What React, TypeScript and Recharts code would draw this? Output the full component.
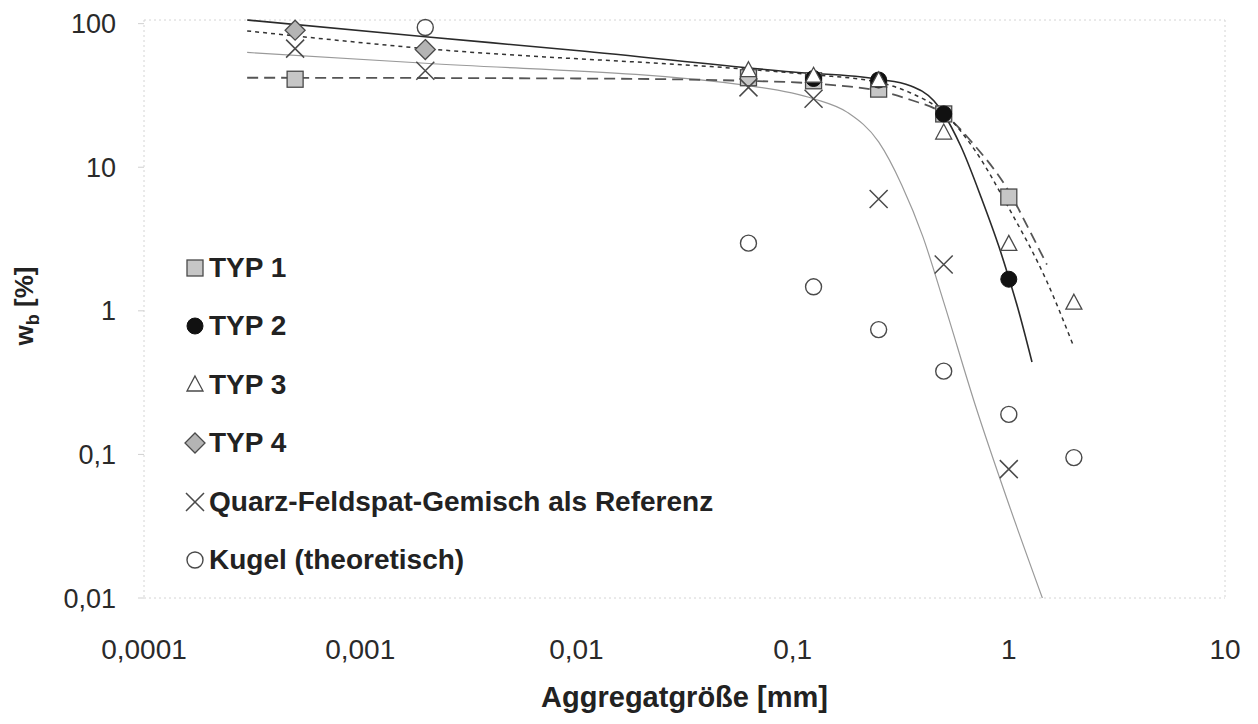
import React from 'react';
import { ComposedChart, Line, Scatter, XAxis, YAxis, CartesianGrid } from 'recharts';

// axis ticks
const xTicks = [0.0001, 0.001, 0.01, 0.1, 1, 10];
const yTicks = [0.01, 0.1, 1, 10, 100];

// measured points
const typ1X = [0.0005, 0.0625, 0.125, 0.25, 0.5, 1];
const typ1Y = [41, 42, 40, 35, 23.5, 6.2];
const typ2X = [0.125, 0.25, 0.5, 1];
const typ2Y = [41.5, 40.5, 23.5, 1.66];
const typ3X = [0.0625, 0.125, 0.25, 0.5, 1, 2];
const typ3Y = [47, 43, 40, 17.3, 2.9, 1.13];
const typ4X = [0.0005, 0.002];
const typ4Y = [90, 66];
const refX = [0.0005, 0.002, 0.0625, 0.125, 0.25, 0.5, 1];
const refY = [67, 47, 36, 30, 6, 2.1, 0.079];
const kugelX = [0.002, 0.0625, 0.125, 0.25, 0.5, 1, 2];
const kugelY = [94, 2.96, 1.47, 0.74, 0.38, 0.19, 0.095];

// fitted curves
const fitTyp2X = [0.0003, 0.002, 0.01, 0.1, 0.25, 0.35, 0.45, 0.5, 0.6, 0.75, 0.9, 1.0, 1.1, 1.28];
const fitTyp2Y = [106, 81, 65, 46, 41, 37, 29, 23.5, 14, 6, 2.8, 1.7, 1.05, 0.44];
const fitTyp1X = [0.0003, 0.01, 0.06, 0.15, 0.25, 0.35, 0.5, 0.7, 1.0, 1.25, 1.5];
const fitTyp1Y = [42, 41.5, 40, 37.5, 34, 29.5, 23.5, 14, 6.8, 3.6, 2.1];
const fitTyp34X = [0.0003, 0.002, 0.0625, 0.125, 0.25, 0.35, 0.5, 0.7, 1.0, 1.5, 2.0];
const fitTyp34Y = [89, 67, 48, 44, 39, 33, 24, 13, 5.2, 1.6, 0.56];
const fitRefX = [0.0003, 0.002, 0.0625, 0.125, 0.18, 0.25, 0.32, 0.4, 0.5, 0.7, 1.0, 1.43];
const fitRefY = [63, 53, 37, 30, 24, 15, 7.5, 3.3, 1.15, 0.22, 0.045, 0.01];

const legendLabels = [
  'TYP 1',
  'TYP 2',
  'TYP 3',
  'TYP 4',
  'Quarz-Feldspat-Gemisch als Referenz',
  'Kugel (theoretisch)',
];

const zip = (xs: number[], ys: number[]) => xs.map((x, i) => ({ x, y: ys[i] }));

const typ1 = zip(typ1X, typ1Y);
const typ2 = zip(typ2X, typ2Y);
const typ3 = zip(typ3X, typ3Y);
const typ4 = zip(typ4X, typ4Y);
const ref = zip(refX, refY);
const kugel = zip(kugelX, kugelY);
const fitTyp2 = zip(fitTyp2X, fitTyp2Y);
const fitTyp1 = zip(fitTyp1X, fitTyp1Y);
const fitTyp34 = zip(fitTyp34X, fitTyp34Y);
const fitRef = zip(fitRefX, fitRefY);

const MS = '#4a4a4a';

const SquareM = ({ cx, cy }: any) => (
  <rect x={cx - 8} y={cy - 8} width={16} height={16} fill="#c6c6c6" stroke={MS} strokeWidth={1.3} />
);
const DotM = ({ cx, cy }: any) => <circle cx={cx} cy={cy} r={8} fill="#111" stroke="#111" strokeWidth={1} />;
const TriM = ({ cx, cy }: any) => (
  <path d={`M${cx},${cy - 9} L${cx + 8},${cy + 6} L${cx - 8},${cy + 6} Z`} fill="#fff" stroke={MS} strokeWidth={1.3} />
);
const DiaM = ({ cx, cy }: any) => (
  <path d={`M${cx},${cy - 10} L${cx + 10},${cy} L${cx},${cy + 10} L${cx - 10},${cy} Z`} fill="#b4b4b4" stroke={MS} strokeWidth={1.3} />
);
const CrossM = ({ cx, cy }: any) => (
  <path d={`M${cx - 9},${cy - 9} L${cx + 9},${cy + 9} M${cx + 9},${cy - 9} L${cx - 9},${cy + 9}`} stroke={MS} strokeWidth={1.5} fill="none" />
);
const RingM = ({ cx, cy }: any) => <circle cx={cx} cy={cy} r={8} fill="none" stroke={MS} strokeWidth={1.4} />;

const legendShapes = [SquareM, DotM, TriM, DiaM, CrossM, RingM];

const fmt = (v: number) => String(v).replace('.', ',');

const YTitle = () => (
  <text transform="translate(25,298) rotate(-90)" textAnchor="middle" fontWeight="bold" fontSize={26} fill="#222">
    w<tspan fontSize={18} dy={6}>b</tspan>
    <tspan dy={-6}> [%]</tspan>
  </text>
);

const XTitle = (props: any) => {
  const vb = props.viewBox || {};
  return (
    <text x={vb.x + vb.width / 2} y={vb.y + 109} textAnchor="middle" fontWeight="bold" fontSize={29} fill="#222">
      Aggregatgröße [mm]
    </text>
  );
};

const xDomain = () => [0.0001, 10];
const yDomain = () => [0.01, 100];

export default function App() {
  const W = 1242;
  const H = 708;
  return (
    <div style={{ position: 'relative', width: W, height: H, fontFamily: '"Liberation Sans", Arial, sans-serif', background: '#fff' }}>
      <ComposedChart width={W} height={H} margin={{ top: 12, right: 25, left: 0, bottom: 8 }}>
        <CartesianGrid
          stroke="#d4d4d4"
          strokeDasharray="2 3"
          horizontalCoordinatesGenerator={({ offset }: any) => [offset.top, offset.top + offset.height]}
          verticalCoordinatesGenerator={({ offset }: any) => [offset.left, offset.left + offset.width]}
        />
        <XAxis
          dataKey="x"
          type="number"
          scale="log"
          domain={xDomain as any}
          ticks={xTicks}
          tickFormatter={fmt}
          axisLine={false}
          tickLine={false}
          tickSize={0}
          tickMargin={41}
          height={110}
          tick={{ fontSize: 28, fill: '#2a2a2a' }}
          label={<XTitle />}
        />
        <YAxis
          dataKey="y"
          type="number"
          scale="log"
          domain={yDomain as any}
          ticks={yTicks}
          tickFormatter={fmt}
          axisLine={false}
          tickLine={{ stroke: '#d0d0d0' }}
          tickSize={6}
          tickMargin={22}
          width={136}
          tick={{ fontSize: 27, fill: '#2a2a2a' }}
          label={<YTitle />}
        />
        <Line data={fitRef} dataKey="y" type="monotone" stroke="#9a9a9a" strokeWidth={1.2} dot={false} isAnimationActive={false} />
        <Line data={fitTyp1} dataKey="y" type="monotone" stroke="#555" strokeWidth={1.8} strokeDasharray="11 6" dot={false} isAnimationActive={false} />
        <Line data={fitTyp34} dataKey="y" type="monotone" stroke="#333" strokeWidth={1.5} strokeDasharray="4 4" dot={false} isAnimationActive={false} />
        <Line data={fitTyp2} dataKey="y" type="monotone" stroke="#2a2a2a" strokeWidth={1.6} dot={false} isAnimationActive={false} />
        <Scatter data={typ1} dataKey="y" shape={SquareM} isAnimationActive={false} />
        <Scatter data={typ2} dataKey="y" shape={DotM} isAnimationActive={false} />
        <Scatter data={typ3} dataKey="y" shape={TriM} isAnimationActive={false} />
        <Scatter data={typ4} dataKey="y" shape={DiaM} isAnimationActive={false} />
        <Scatter data={ref} dataKey="y" shape={CrossM} isAnimationActive={false} />
        <Scatter data={kugel} dataKey="y" shape={RingM} isAnimationActive={false} />
      </ComposedChart>
      {legendLabels.map((lab, i) => {
        const Shape = legendShapes[i];
        const cy = 260 + 58.4 * i;
        return (
          <div
            key={lab}
            style={{ position: 'absolute', left: 176, top: cy - 15, height: 30, display: 'flex', alignItems: 'center' }}
          >
            <svg width={22} height={22} style={{ display: 'block' }}>
              <Shape cx={11} cy={11} />
            </svg>
            <span style={{ marginLeft: 3, fontWeight: 'bold', fontSize: 28, color: '#222', whiteSpace: 'nowrap' }}>{lab}</span>
          </div>
        );
      })}
    </div>
  );
}
